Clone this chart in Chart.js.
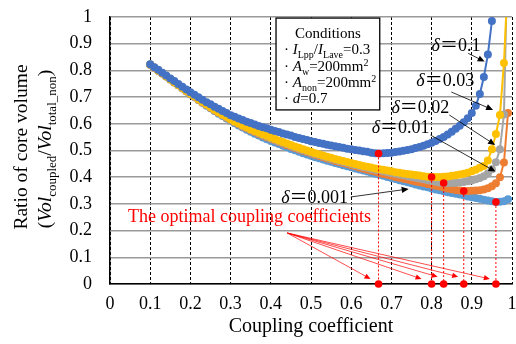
<!DOCTYPE html>
<html>
<head>
<meta charset="utf-8">
<script src="https://cdn.jsdelivr.net/npm/chart.js@4.4.0/dist/chart.umd.min.js"></script>
<style>
  html, body { margin: 0; padding: 0; background: #fff; }
  #wrap { width: 516px; height: 344px; position: relative; }
</style>
</head>
<body>
<div id="wrap"><canvas id="chart"></canvas></div>
<script>
// coupling coefficient (x) for every marker
const kValues = [
  0.10, 0.11, 0.12, 0.13, 0.14, 0.15, 0.16, 0.17, 0.18, 0.19,
  0.20, 0.21, 0.22, 0.23, 0.24, 0.25, 0.26, 0.27, 0.28, 0.29,
  0.30, 0.31, 0.32, 0.33, 0.34, 0.35, 0.36, 0.37, 0.38, 0.39,
  0.40, 0.41, 0.42, 0.43, 0.44, 0.45, 0.46, 0.47, 0.48, 0.49,
  0.50, 0.51, 0.52, 0.53, 0.54, 0.55, 0.56, 0.57, 0.58, 0.59,
  0.60, 0.61, 0.62, 0.63, 0.64, 0.65, 0.66, 0.67, 0.68, 0.69,
  0.70, 0.71, 0.72, 0.73, 0.74, 0.75, 0.76, 0.77, 0.78, 0.79,
  0.80, 0.81, 0.82, 0.83, 0.84, 0.85, 0.86, 0.87, 0.88, 0.89,
  0.90, 0.91, 0.92, 0.93, 0.94, 0.95, 0.96, 0.97, 0.98, 0.99
];

// ratio of core volume, one list per delta
const delta01 = [
  .823, .812, .802, .791, .781, .770, .760, .749, .739, .728,
  .718, .709, .699, .690, .681, .673, .664, .656, .648, .640,
  .632, .626, .620, .614, .608, .603, .597, .592, .587, .583,
  .578, .573, .569, .564, .560, .556, .551, .547, .543, .539,
  .535, .532, .528, .525, .522, .519, .516, .513, .510, .507,
  .505, .502, .500, .497, .495, .492, .490, .489, .490, .491,
  .492, .494, .496, .499, .502, .505, .509, .513, .518, .523,
  .529, .536, .543, .551, .560, .570, .581, .593, .606, .621,
  .640, .668, .712, .775, .860, .985, 1.15
];
const delta003 = [
  .822, .811, .800, .789, .778, .767, .756, .745, .734, .723,
  .713, .703, .692, .682, .672, .662, .653, .643, .634, .626,
  .617, .609, .602, .594, .587, .580, .573, .567, .561, .555,
  .549, .543, .537, .532, .526, .521, .515, .510, .505, .500,
  .495, .490, .486, .481, .477, .473, .468, .464, .461, .457,
  .453, .449, .446, .442, .439, .436, .433, .430, .428, .425,
  .422, .419, .417, .414, .412, .410, .408, .406, .404, .402,
  .401, .401, .401, .402, .403, .405, .407, .410, .413, .417,
  .422, .428, .435, .442, .463, .505, .562, .633, .828, 1.15
];
const delta002 = [
  .822, .811, .800, .789, .778, .767, .756, .745, .734, .723,
  .712, .702, .691, .681, .671, .661, .652, .642, .633, .624,
  .615, .607, .600, .592, .585, .578, .571, .565, .558, .552,
  .546, .540, .534, .529, .523, .518, .512, .507, .502, .497,
  .492, .487, .483, .478, .474, .469, .465, .461, .457, .453,
  .449, .445, .442, .438, .435, .431, .428, .425, .422, .419,
  .416, .413, .410, .407, .404, .401, .398, .395, .392, .389,
  .386, .383, .380, .378, .378, .378, .379, .380, .382, .385,
  .388, .392, .397, .404, .414, .430, .456, .505, .635, 1.30
];
const delta001 = [
  .821, .810, .799, .788, .777, .766, .755, .744, .733, .722,
  .711, .701, .690, .680, .670, .660, .650, .641, .632, .623,
  .614, .606, .598, .590, .583, .576, .569, .562, .556, .550,
  .544, .538, .532, .526, .520, .515, .509, .504, .499, .494,
  .489, .484, .479, .475, .470, .466, .461, .457, .453, .449,
  .445, .441, .436, .432, .428, .424, .420, .416, .412, .409,
  .405, .401, .398, .394, .391, .388, .384, .381, .378, .375,
  .372, .368, .365, .361, .358, .355, .352, .350, .348, .348,
  .349, .350, .351, .354, .359, .366, .377, .400, .455, .640
];
const delta0001 = [
  .821, .810, .799, .788, .777, .766, .755, .744, .732, .721,
  .710, .700, .689, .679, .668, .658, .648, .638, .629, .620,
  .611, .602, .594, .586, .578, .570, .563, .556, .549, .542,
  .536, .530, .524, .518, .512, .506, .501, .495, .490, .485,
  .480, .475, .471, .466, .462, .458, .453, .449, .445, .441,
  .437, .433, .429, .425, .421, .417, .413, .409, .405, .401,
  .397, .393, .389, .385, .381, .377, .373, .369, .365, .362,
  .358, .354, .351, .347, .344, .341, .338, .335, .332, .328,
  .325, .322, .319, .316, .313, .310, .307, .308, .310, .317
];

// optimal coupling coefficient for each curve and its volume ratio
const optK = [0.668, 0.800, 0.830, 0.880, 0.960];
const optRatio = [0.489, 0.401, 0.378, 0.348, 0.307];

const xTicks = [0, 0.1, 0.2, 0.3, 0.4, 0.5, 0.6, 0.7, 0.8, 0.9, 1];
const yTicks = [0, 0.1, 0.2, 0.3, 0.4, 0.5, 0.6, 0.7, 0.8, 0.9, 1];

const SERIF = "'Liberation Serif', 'Times New Roman', serif";
const CJK = "'Noto Sans CJK JP', 'Noto Sans CJK SC', sans-serif";

const pts = ys => ys.map((y, i) => ({ x: kValues[i], y: y }));

function curve(label, ys, color) {
  return {
    label: label, data: pts(ys),
    borderColor: color, backgroundColor: color,
    borderWidth: 2, pointRadius: 4, pointBorderWidth: 0,
    pointBackgroundColor: color, showLine: true, tension: 0
  };
}

// --- small drawing helpers for the annotation plugin ---
function fontFor(p, size) {
  const s = (p.sub || p.sup) ? Math.round(size * 0.68) : size;
  return (p.i ? 'italic ' : '') + s + 'px ' + (p.f || SERIF);
}

function drawRich(ctx, parts, x, y, size, align) {
  let w = 0;
  parts.forEach(p => { ctx.font = fontFor(p, size); p.w = ctx.measureText(p.t).width; w += p.w; });
  let cx = align === 'center' ? x - w / 2 : x;
  ctx.textAlign = 'left';
  ctx.textBaseline = 'alphabetic';
  parts.forEach(p => {
    ctx.font = fontFor(p, size);
    const dy = p.sub ? size * 0.26 : (p.sup ? -size * 0.36 : 0);
    ctx.fillText(p.t, cx, y + dy);
    cx += p.w;
  });
}

function arrow(ctx, x1, y1, x2, y2, color, lw, head) {
  const a = Math.atan2(y2 - y1, x2 - x1);
  const c = Math.cos(a), s = Math.sin(a);
  ctx.strokeStyle = color;
  ctx.fillStyle = color;
  ctx.lineWidth = lw;
  ctx.beginPath();
  ctx.moveTo(x1, y1);
  ctx.lineTo(x2 - head * 0.8 * c, y2 - head * 0.8 * s);
  ctx.stroke();
  ctx.beginPath();
  ctx.moveTo(x2, y2);
  ctx.lineTo(x2 - head * c + head * 0.45 * s, y2 - head * s - head * 0.45 * c);
  ctx.lineTo(x2 - head * c - head * 0.45 * s, y2 - head * s + head * 0.45 * c);
  ctx.closePath();
  ctx.fill();
}

// labels and arrows, anchored in data units
const deltaLabels = [
  { txt: '0.1',   at: [0.800, 0.895], from: [0.891, 0.864], to: [0.932, 0.833] },
  { txt: '0.03',  at: [0.762, 0.764], from: [0.849, 0.719], to: [0.953, 0.652] },
  { txt: '0.02',  at: [0.700, 0.663], from: [0.844, 0.633], to: [0.958, 0.521] },
  { txt: '0.01',  at: [0.651, 0.588], from: [0.797, 0.558], to: [0.959, 0.421] },
  { txt: '0.001', at: [0.426, 0.326], from: [0.599, 0.326], to: [0.743, 0.356] }
];
const optArrowFrom = [0.441, 0.191];
const optArrowTo = [[0.648, 0.019], [0.775, 0.019], [0.815, 0.027], [0.866, 0.027], [0.945, 0.019]];
const condBox = { left: 0.413, right: 0.671, top: 0.996, bottom: 0.652 };

const annotations = {
  id: 'annotations',
  afterDraw(chart) {
    const ctx = chart.ctx;
    const xs = chart.scales.x, ys = chart.scales.y;
    const px = v => xs.getPixelForValue(v);
    const py = v => ys.getPixelForValue(v);
    const area = chart.chartArea;
    ctx.save();

    // conditions box
    const bl = px(condBox.left), br = px(condBox.right), bt = py(condBox.top), bb = py(condBox.bottom);
    ctx.fillStyle = '#fff';
    ctx.fillRect(bl, bt, br - bl, bb - bt);
    ctx.strokeStyle = '#000';
    ctx.lineWidth = 1.3;
    ctx.strokeRect(bl, bt, br - bl, bb - bt);
    ctx.fillStyle = '#000';
    const fs = 15;
    drawRich(ctx, [{ t: 'Conditions' }], (bl + br) / 2, bt + 20, fs, 'center');
    const tx = bl + 8;
    drawRich(ctx, [{ t: '· ' }, { t: 'I', i: true }, { t: 'Lpp', sub: true }, { t: '/' },
      { t: 'I', i: true }, { t: 'Lave', sub: true }, { t: '=0.3' }], tx, bt + 36, fs);
    drawRich(ctx, [{ t: '· ' }, { t: 'A', i: true }, { t: 'w', sub: true }, { t: '=200mm' },
      { t: '2', sup: true }], tx, bt + 53, fs);
    drawRich(ctx, [{ t: '· ' }, { t: 'A', i: true }, { t: 'non', sub: true }, { t: '=200mm' },
      { t: '2', sup: true }], tx, bt + 69, fs);
    drawRich(ctx, [{ t: '· ' }, { t: 'd', i: true }, { t: '=0.7' }], tx, bt + 85, fs);

    // delta labels with black arrows
    deltaLabels.forEach(d => {
      ctx.fillStyle = '#000';
      drawRich(ctx, [{ t: 'δ', i: true }, { t: '＝', f: CJK }, { t: d.txt }],
        px(d.at[0]), py(d.at[1]) + 6, 18);
      arrow(ctx, px(d.from[0]), py(d.from[1]), px(d.to[0]), py(d.to[1]), '#000', 0.8, 7);
    });

    // optimal coupling coefficient note
    ctx.fillStyle = '#ff0000';
    drawRich(ctx, [{ t: 'The optimal coupling coefficients' }], px(0.0446), py(0.255) + 6, 18);
    optArrowTo.forEach(p => {
      arrow(ctx, px(optArrowFrom[0]), py(optArrowFrom[1]), px(p[0]), py(p[1]), '#ff0000', 0.7, 6);
    });

    // axis titles
    ctx.fillStyle = '#000';
    drawRich(ctx, [{ t: 'Coupling coefficient' }], (area.left + area.right) / 2, area.bottom + 48, 20, 'center');
    ctx.save();
    ctx.translate(27, 147);
    ctx.rotate(-Math.PI / 2);
    drawRich(ctx, [{ t: 'Ratio of core volume' }], 0, 0, 19.5, 'center');
    ctx.restore();
    ctx.save();
    ctx.translate(51, 149);
    ctx.rotate(-Math.PI / 2);
    drawRich(ctx, [{ t: '(' }, { t: 'Vol', i: true }, { t: 'coupled', sub: true }, { t: '/' },
      { t: 'Vol', i: true }, { t: 'total_non', sub: true }, { t: ')' }], 0, 0, 19.5, 'center');
    ctx.restore();

    ctx.restore();
  }
};

const red = '#ff0000';
const dropLines = optK.map((k, i) => ({
  data: [{ x: k, y: optRatio[i] }, { x: k, y: 0 }],
  borderColor: red, borderWidth: 1, borderDash: [2, 2],
  pointRadius: 0, showLine: true
}));

new Chart(document.getElementById('chart'), {
  type: 'scatter',
  data: {
    datasets: [
      { data: optK.map((k, i) => ({ x: k, y: optRatio[i] })), pointRadius: 3.8,
        pointBackgroundColor: red, pointBorderWidth: 0, showLine: false },
      { data: optK.map(k => ({ x: k, y: 0 })), pointRadius: 3.8,
        pointBackgroundColor: red, pointBorderWidth: 0, showLine: false, clip: false },
      ...dropLines,
      curve('δ=0.1', delta01, '#4472C4'),
      curve('δ=0.03', delta003, '#FFC000'),
      curve('δ=0.02', delta002, '#A5A5A5'),
      curve('δ=0.01', delta001, '#ED7D31'),
      curve('δ=0.001', delta0001, '#5B9BD5')
    ]
  },
  options: {
    responsive: true,
    maintainAspectRatio: false,
    devicePixelRatio: 1,
    animation: false,
    layout: { padding: { top: 17, right: 2, bottom: 0, left: 0 } },
    plugins: { legend: { display: false }, tooltip: { enabled: false } },
    scales: {
      x: {
        type: 'linear', min: 0, max: 1,
        afterBuildTicks: s => { s.ticks = xTicks.map(v => ({ value: v })); },
        afterFit: s => { s.height = 60; s.paddingLeft = 0; s.paddingRight = 0; },
        ticks: { color: '#000', font: { family: SERIF, size: 18 }, padding: 9,
          maxRotation: 0, autoSkip: false, callback: v => String(Math.round(v * 10) / 10) },
        grid: { color: '#000', lineWidth: 1, drawTicks: false },
        border: { display: true, color: '#000', width: 1.5, dash: [3, 2] }
      },
      y: {
        type: 'linear', min: 0, max: 1,
        afterBuildTicks: s => { s.ticks = yTicks.map(v => ({ value: v })); },
        afterFit: s => { s.width = 110; s.paddingTop = 0; s.paddingBottom = 0; },
        ticks: { color: '#000', font: { family: SERIF, size: 18 }, padding: 18,
          callback: v => String(Math.round(v * 10) / 10) },
        grid: { color: '#9a9a9a', lineWidth: 1.5, drawTicks: false },
        border: { display: true, color: '#000', width: 1.5 }
      }
    }
  },
  plugins: [annotations]
});
</script>
</body>
</html>
